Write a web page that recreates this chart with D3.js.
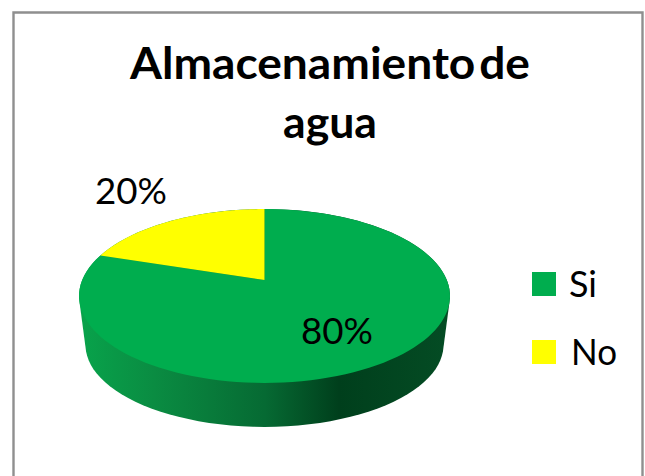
<!DOCTYPE html>
<html><head><meta charset="utf-8">
<script src="https://cdn.jsdelivr.net/npm/d3@7/dist/d3.min.js"></script>
<style>html,body{margin:0;padding:0;background:#fff}svg{display:block}text{font-family:Lato,"Open Sans",sans-serif;fill:#000}</style>
</head><body><svg id="c" width="645" height="476"></svg>
<script>
const titleLines = ["Almacenamiento de", "agua"];
const categories = ["Si", "No"];
const seriesValues = [80, 20];
const valueLabels = ["80%", "20%"];
const sliceColors = ["#00AD4E", "#FFFF00"];

const svg = d3.select("#c");
svg.append("path").attr("d","M13.5 476V12.5H642.5V476").attr("fill","none").attr("stroke","#8f8f8f").attr("stroke-width",2.4);

// title
const titleBox = [{x:130,w:400,y:79},{x:283,w:94,y:137.5}];
svg.selectAll(".t").data(titleLines).join("text").attr("class","t")
  .attr("x",(d,i)=>titleBox[i].x).attr("y",(d,i)=>titleBox[i].y)
  .attr("font-size",44).attr("font-weight",700).attr("word-spacing",-7)
  .attr("textLength",(d,i)=>titleBox[i].w).attr("lengthAdjust","spacingAndGlyphs")
  .text(d=>d);

// perspective disc projection
const apex = {x:264.5,y:280}, k = -0.184, A = 182.3, B = 84;
const project = (theta, s=[1,1], dy=0) => {
  const u = Math.sin(theta), v = -Math.cos(theta), w = 1 + k*v;
  const yc = 296 + dy;
  return [apex.x + s[0]*A*u/w, yc + s[1]*((apex.y-296) + B*v/w)];
};
const arcPts = (a0,a1,s,dy) => d3.range(0,121).map(i=>project(a0+(a1-a0)*i/120,s,dy));

const pie = d3.pie().sort(null)(seriesValues);
const lower = arcPts(0,2*Math.PI,[0.965,0.942],49);
const upper = arcPts(0,2*Math.PI);

const grad = svg.append("defs").append("linearGradient").attr("id","side")
  .attr("gradientUnits","userSpaceOnUse").attr("x1",80).attr("x2",450).attr("y1",0).attr("y2",0);
[[0,"#08A34B"],[0.2,"#0A8C42"],[0.5,"#066A33"],[0.7,"#003F1C"],[1,"#044C24"]]
  .forEach(([o,c])=>grad.append("stop").attr("offset",o).attr("stop-color",c));

const line = d3.line().curve(d3.curveLinearClosed);
svg.append("path").attr("d",line(d3.polygonHull(lower.concat(upper)))).attr("fill","url(#side)");
svg.selectAll(".slice").data(pie).join("path").attr("class","slice")
  .attr("d",d=>line([[apex.x,apex.y],...arcPts(d.startAngle,d.endAngle)]))
  .attr("fill",(d,i)=>sliceColors[i]);

// data labels
const labelBox = [{x:301,y:344,w:72},{x:95,y:204,w:72}];
svg.selectAll(".v").data(valueLabels).join("text").attr("class","v")
  .attr("x",(d,i)=>labelBox[i].x).attr("y",(d,i)=>labelBox[i].y)
  .attr("font-size",36).attr("textLength",(d,i)=>labelBox[i].w).attr("lengthAdjust","spacingAndGlyphs")
  .text(d=>d);

// legend
const legendY = d3.scalePoint().domain(categories).range([284,352]);
svg.selectAll(".k").data(categories).join("rect").attr("class","k")
  .attr("x",532).attr("width",24).attr("height",24)
  .attr("y",d=>legendY(d)-12).attr("fill",(d,i)=>sliceColors[i]);
const legendW = [28,46], legendX = [569,571];
svg.selectAll(".l").data(categories).join("text").attr("class","l")
  .attr("x",(d,i)=>legendX[i]).attr("y",d=>legendY(d)+12.5)
  .attr("font-size",37).attr("textLength",(d,i)=>legendW[i]).attr("lengthAdjust","spacingAndGlyphs")
  .text(d=>d);
</script></body></html>
